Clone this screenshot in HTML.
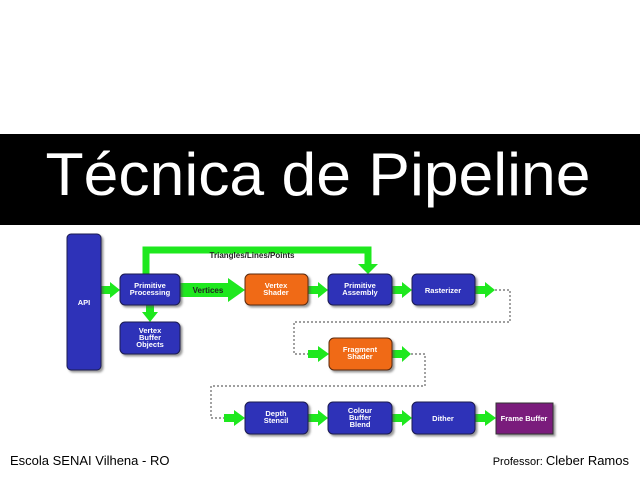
<!DOCTYPE html>
<html><head><meta charset="utf-8"><style>
body{margin:0;background:#fff;width:640px;height:480px;overflow:hidden}
</style></head><body>
<svg width="640" height="480" xmlns="http://www.w3.org/2000/svg" font-family="Liberation Sans, sans-serif">
<defs>
<filter id="sh" x="-20%" y="-20%" width="150%" height="150%"><feDropShadow dx="2" dy="2" stdDeviation="1" flood-color="#555" flood-opacity="0.6"/></filter>
</defs>
<rect x="0" y="134" width="640" height="91" fill="#000"/>
<text x="318" y="195" fill="#fff" font-size="60" text-anchor="middle" textLength="545" lengthAdjust="spacingAndGlyphs">Técnica de Pipeline</text>

<!-- green loop -->
<path d="M146 274 V250 H368 V266" fill="none" stroke="#1ee81e" stroke-width="7"/>
<polygon points="358,264 378,264 368,274" fill="#1ee81e"/>
<text x="252" y="258" font-size="8" font-weight="bold" text-anchor="middle" fill="#222">Triangles/Lines/Points</text>

<!-- arrows -->
<g fill="#1ee81e">
<polygon points="100,286 110,286 110,282 120,290 110,298 110,294 100,294"/>
<polygon points="146,305 154,305 154,312 158,312 150,322 142,312 146,312"/>
<polygon points="180,283 228,283 228,278 245,290 228,302 228,297 180,297"/>
<polygon points="308,286 318,286 318,282 328,290 318,298 318,294 308,294"/>
<polygon points="392,286 402,286 402,282 412,290 402,298 402,294 392,294"/>
<polygon points="475,286 485,286 485,282 495,290 485,298 485,294 475,294"/>
<polygon points="308,350 318,350 318,346 329,354 318,362 318,358 308,358"/>
<polygon points="392,350 402,350 402,346 411,354 402,362 402,358 392,358"/>
<polygon points="224,414 234,414 234,410 245,418 234,426 234,422 224,422"/>
<polygon points="308,414 318,414 318,410 328,418 318,426 318,422 308,422"/>
<polygon points="392,414 402,414 402,410 412,418 402,426 402,422 392,422"/>
<polygon points="475,414 485,414 485,410 496,418 485,426 485,422 475,422"/>
</g>
<text x="208" y="293" font-size="8" font-weight="bold" text-anchor="middle" fill="#222">Vertices</text>

<!-- dotted -->
<g fill="none" stroke="#666" stroke-width="1.2" stroke-dasharray="2,2">
<path d="M495 290 H510 V322 H294 V354 H308"/>
<path d="M411 354 H425 V386 H211 V418 H224"/>
</g>

<!-- boxes -->
<g filter="url(#sh)" stroke="#1a1a50" stroke-width="1">
<rect x="67" y="234" width="34" height="136" rx="4" fill="#2e30b8"/>
<rect x="120" y="274" width="60" height="31" rx="5" fill="#2e30b8"/>
<rect x="120" y="322" width="60" height="32" rx="5" fill="#2e30b8"/>
<rect x="245" y="274" width="63" height="31" rx="5" fill="#f06a14" stroke="#5a2a10"/>
<rect x="328" y="274" width="64" height="31" rx="5" fill="#2e30b8"/>
<rect x="412" y="274" width="63" height="31" rx="5" fill="#2e30b8"/>
<rect x="329" y="338" width="63" height="32" rx="5" fill="#f06a14" stroke="#5a2a10"/>
<rect x="245" y="402" width="63" height="32" rx="5" fill="#2e30b8"/>
<rect x="328" y="402" width="64" height="32" rx="5" fill="#2e30b8"/>
<rect x="412" y="402" width="63" height="32" rx="5" fill="#2e30b8"/>
<rect x="496" y="403" width="57" height="31" fill="#7a1a7c" stroke="#333"/>
</g>
<g fill="#fff" font-size="7.5" font-weight="bold" text-anchor="middle">
<text x="84" y="305">API</text>
<text x="150" y="288">Primitive</text><text x="150" y="295">Processing</text>
<text x="150" y="333">Vertex</text><text x="150" y="340">Buffer</text><text x="150" y="347">Objects</text>
<text x="276" y="288">Vertex</text><text x="276" y="295">Shader</text>
<text x="360" y="288">Primitive</text><text x="360" y="295">Assembly</text>
<text x="443" y="293">Rasterizer</text>
<text x="360" y="352">Fragment</text><text x="360" y="359">Shader</text>
<text x="276" y="416">Depth</text><text x="276" y="423">Stencil</text>
<text x="360" y="413">Colour</text><text x="360" y="420">Buffer</text><text x="360" y="427">Blend</text>
<text x="443" y="421">Dither</text>
<text x="524" y="421">Frame Buffer</text>
</g>

<text x="10" y="465" font-size="13" fill="#000">Escola SENAI Vilhena - RO</text>
<text x="629" y="465" font-size="13" fill="#000" text-anchor="end"><tspan font-size="11">Professor: </tspan>Cleber Ramos</text>
</svg>
</body></html>
